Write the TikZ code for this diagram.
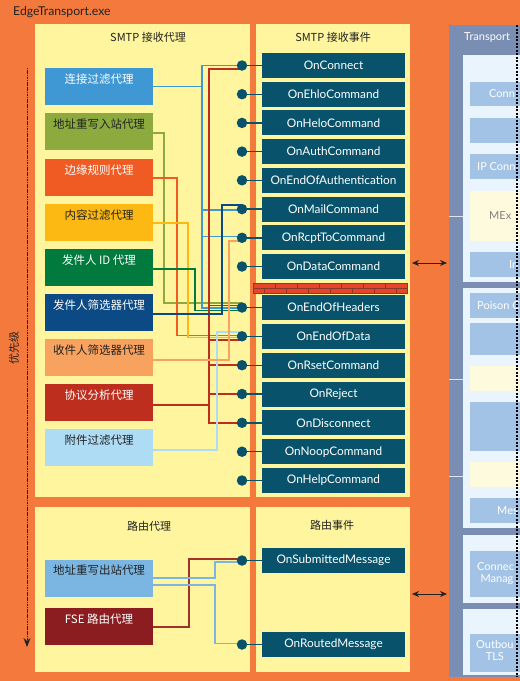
\documentclass[tikz,border=0pt]{standalone}
\usepackage{fontspec}
\setmainfont{Lato}
\newfontfamily\cjk{Noto Sans CJK SC}
\usetikzlibrary{arrows.meta}
\definecolor{bgor}{HTML}{F37A3C}
\definecolor{pany}{HTML}{FEF59E}
\definecolor{evt}{HTML}{08536B}
\definecolor{trg}{HTML}{7A8DB3}
\definecolor{trl}{HTML}{E9F4FC}
\definecolor{trb}{HTML}{A3C3E6}
\definecolor{try}{HTML}{FEFADD}
\definecolor{agA}{HTML}{3F97D3}
\definecolor{agB}{HTML}{8CAA3E}
\definecolor{agC}{HTML}{F05A23}
\definecolor{agD}{HTML}{FDB913}
\definecolor{agE}{HTML}{007A3D}
\definecolor{agF}{HTML}{0B4A85}
\definecolor{agG}{HTML}{F7A35F}
\definecolor{agH}{HTML}{BE2E1E}
\definecolor{agI}{HTML}{AEDCF5}
\definecolor{agJ}{HTML}{7BB6E3}
\definecolor{agK}{HTML}{8B1D20}
\definecolor{wK}{HTML}{A0322A}
\definecolor{brick}{HTML}{E8442C}
\definecolor{mortar}{HTML}{8A3A2A}
\definecolor{ink}{HTML}{222222}
\tikzset{
  evbox/.style={fill=evt, text=white, minimum width=143pt, minimum height=25pt, inner sep=0pt, font=\fontsize{11.8}{13}\selectfont},
  dotnode/.style={circle, fill=evt, minimum size=10.5pt, inner sep=0pt},
  stub/.style={evt, line width=1.4pt},
  agbox/.style={minimum width=108pt, minimum height=37pt, inner sep=0pt, text height=9pt, text depth=16pt, font=\cjk\fontsize{11.5}{13}\selectfont},
  wire/.style={line width=1.6pt},
  ptitle/.style={text=ink, inner sep=0pt, font=\cjk\fontsize{11}{13}\selectfont},
  trtext/.style={text=white, anchor=west, inner sep=0pt, font=\fontsize{11}{12.5}\selectfont},
  dbl/.style={{Stealth[length=7pt,width=6pt]}-{Stealth[length=7pt,width=6pt]}, line width=0.8pt},
  mort/.style={mortar, line width=0.6pt},
}
\begin{document}
\begin{tikzpicture}[x=1pt,y=-1pt]
\useasboundingbox (0,0) rectangle (520,681);
\fill[bgor] (0,0) rectangle (520,681);
\node[anchor=west, text=ink, inner sep=0pt, font=\fontsize{12.2}{14}\selectfont] (title) at (13,12) {EdgeTransport.exe};
% panels
\fill[pany] (35,24) rectangle (250,497);
\fill[pany] (256,24) rectangle (410,497);
\fill[pany] (35,507) rectangle (250,672);
\fill[pany] (256,507) rectangle (410,672);
\node[ptitle] (t1) at (148,37) {SMTP 接收代理};
\node[ptitle] (t2) at (333,37) {SMTP 接收事件};
\node[ptitle] (t3) at (149,526) {路由代理};
\node[ptitle] (t4) at (332,525) {路由事件};
% priority
\coordinate (pTop) at (27,68);
\coordinate (pBot) at (27,647);
\draw[ink, line width=1pt, dash pattern=on 1.2pt off 0.5pt, -{Stealth[length=9pt,width=7pt]}] (pTop) -- (pBot);
\node[ptitle, rotate=90] (prio) at (14,348) {优先级};
% agents
\node[agbox, fill=agA, text=white] (a1) at (99,86.5) {连接过滤代理};
\node[agbox, fill=agB, text=ink] (a2) at (99,131.5) {地址重写入站代理};
\node[agbox, fill=agC, text=white] (a3) at (99,177.5) {边缘规则代理};
\node[agbox, fill=agD, text=ink] (a4) at (99,222.5) {内容过滤代理};
\node[agbox, fill=agE, text=white] (a5) at (99,267.5) {发件人 ID 代理};
\node[agbox, fill=agF, text=white] (a6) at (99,312.5) {发件人筛选器代理};
\node[agbox, fill=agG, text=ink] (a7) at (99,357.5) {收件人筛选器代理};
\node[agbox, fill=agH, text=white] (a8) at (99,402.5) {协议分析代理};
\node[agbox, fill=agI, text=ink] (a9) at (99,447.5) {附件过滤代理};
\node[agbox, fill=agJ, text=ink] (r1) at (99,578) {地址重写出站代理};
\node[agbox, fill=agK, text=white] (r2) at (99,626.5) {FSE 路由代理};
% events
\foreach \n/\y/\t in {1/65.5/OnConnect, 2/94.2/OnEhloCommand, 3/122.9/OnHeloCommand, 4/151.6/OnAuthCommand, 5/180.3/OnEndOfAuthentication, 6/209.1/OnMailCommand, 7/237.8/OnRcptToCommand, 8/266.5/OnDataCommand, 9/307.5/OnEndOfHeaders, 10/336.3/OnEndOfData, 11/365.2/OnRsetCommand, 12/394/OnReject, 13/422.8/OnDisconnect, 14/451.7/OnNoopCommand, 15/480.5/OnHelpCommand, 16/560.5/OnSubmittedMessage, 17/644.5/OnRoutedMessage}{
  \node[evbox] (e\n) at (333.5,\y) {\t};
  \coordinate (d\n) at (242,\y);
}
% brick wall
\fill[brick] (253,283) rectangle (407,293);
\draw[mort] (253,283) rectangle (407,293);
\draw[mort] (253,288) -- (407,288);
\foreach \x in {275,297,...,405} \draw[mort] (\x,283) -- (\x,288);
\foreach \x in {264,286,...,405} \draw[mort] (\x,288) -- (\x,293);
% wires
\draw[wire,agB] ([yshift=-1.5pt]a2.east) -- ++(11,0) |- ([yshift=4.5pt]d9);
\draw[wire,agC] ([yshift=-0.5pt]a3.east) -- ++(24,0) |- ([yshift=1pt]d10);
\draw[wire,agD] ([yshift=-0.5pt]a4.east) -- ++(35,0) |- ([yshift=-1pt]d10);
\draw[wire,agE] ([yshift=-1.5pt]a5.east) -- ++(42,0) |- ([yshift=-3pt]d9);
\draw[wire,agA] (a1.east) -- ++(49,0) |- (d1);
\draw[wire,agA] (a1.east) -- ++(49,0) |- ([yshift=-1pt]d6);
\draw[wire,agA] (a1.east) -- ++(49,0) |- ([yshift=1.5pt]d7);
\draw[wire,agA] (a1.east) -- ++(49,0) |- ([yshift=-0.5pt]d9);
\foreach \t/\s in {1/-3.5, 9/2, 10/-3.5, 11/0, 12/0, 13/0}
  \draw[wire,agH] ([yshift=-2.5pt]a8.east) -- ++(56,0) |- ([yshift=\s pt]d\t);
\draw[wire,agI] ([yshift=-2.5pt]a9.east) -- ++(64,0) |- ([yshift=4.5pt]d10);
\draw[wire,agF] ([yshift=-1.5pt]a6.east) -- ++(69,0) |- ([yshift=4pt]d6);
\draw[wire,agG] ([yshift=-2.5pt]a7.east) -- ++(76,0) |- ([yshift=-3pt]d7);
\draw[wire,wK] ([yshift=-0.5pt]r2.east) -- ++(36,0) |- ([yshift=1.5pt]d16);
\draw[wire,agJ] (r1.east) -- ++(62,0) |- ([yshift=-1.5pt]d16);
\draw[wire,agJ] ([yshift=-7pt]r1.east) -- ++(62,0) |- ([yshift=1pt]d17);
% dots and stubs
\foreach \n in {1,...,17}{
  \node[dotnode] (D\n) at (d\n) {};
  \draw[stub] (D\n) -- (e\n);
}
% transport
\fill[trg] (449,25) rectangle (520,677);
\node[trtext] (trt) at (464,37) {Transport};
\fill[trl] (463,55) rectangle (520,282);
\fill[trl] (463,288) rectangle (520,528);
\fill[trl] (463,535) rectangle (520,603);
\fill[trl] (463,609) rectangle (520,675);
\foreach \y in {216,379,476} \draw[white!75!trg, line width=0.8pt] (449,\y) -- (463,\y);
\fill[trb] (470,82) rectangle (520,106);
\fill[trb] (470,118) rectangle (520,143);
\fill[trb] (470,154) rectangle (520,179);
\fill[try] (470,191) rectangle (520,241);
\fill[trb] (470,252) rectangle (520,277);
\fill[trb] (470,293) rectangle (520,318);
\fill[trb] (470,323) rectangle (520,355);
\fill[try] (470,366) rectangle (520,391);
\fill[trb] (470,402) rectangle (520,451);
\fill[try] (470,462) rectangle (520,487);
\fill[trb] (470,498) rectangle (520,523);
\fill[trb] (470,551) rectangle (520,597);
\fill[trb] (470,634) rectangle (520,672);
\node[trtext] (x1) at (489,94) {Conn};
\node[trtext] (x2) at (477,166.5) {IP Conn};
\node[trtext, text=gray] (x3) at (489,216) {MEx};
\node[trtext] (x4) at (509,264.5) {In};
\node[trtext] (x5) at (477,305.5) {Poison C};
\node[trtext] (x6) at (497,510.5) {Mes};
\node[trtext, align=center, anchor=north west] (x7) at (477,562) {Connec\\\ Manag};
\node[trtext, align=center, anchor=north west] (x8) at (476,640) {Outbou\\TLS};
\draw[black, line width=1.2pt, dash pattern=on 2pt off 1.5pt] (517,25) -- (517,677);
% double arrows
\coordinate (aL1) at (412,263);
\coordinate (aR1) at (447,263);
\coordinate (aL2) at (412,594);
\coordinate (aR2) at (447,594);
\draw[dbl, ink] (aL1) -- (aR1);
\draw[dbl, ink] (aL2) -- (aR2);
\end{tikzpicture}
\end{document}
